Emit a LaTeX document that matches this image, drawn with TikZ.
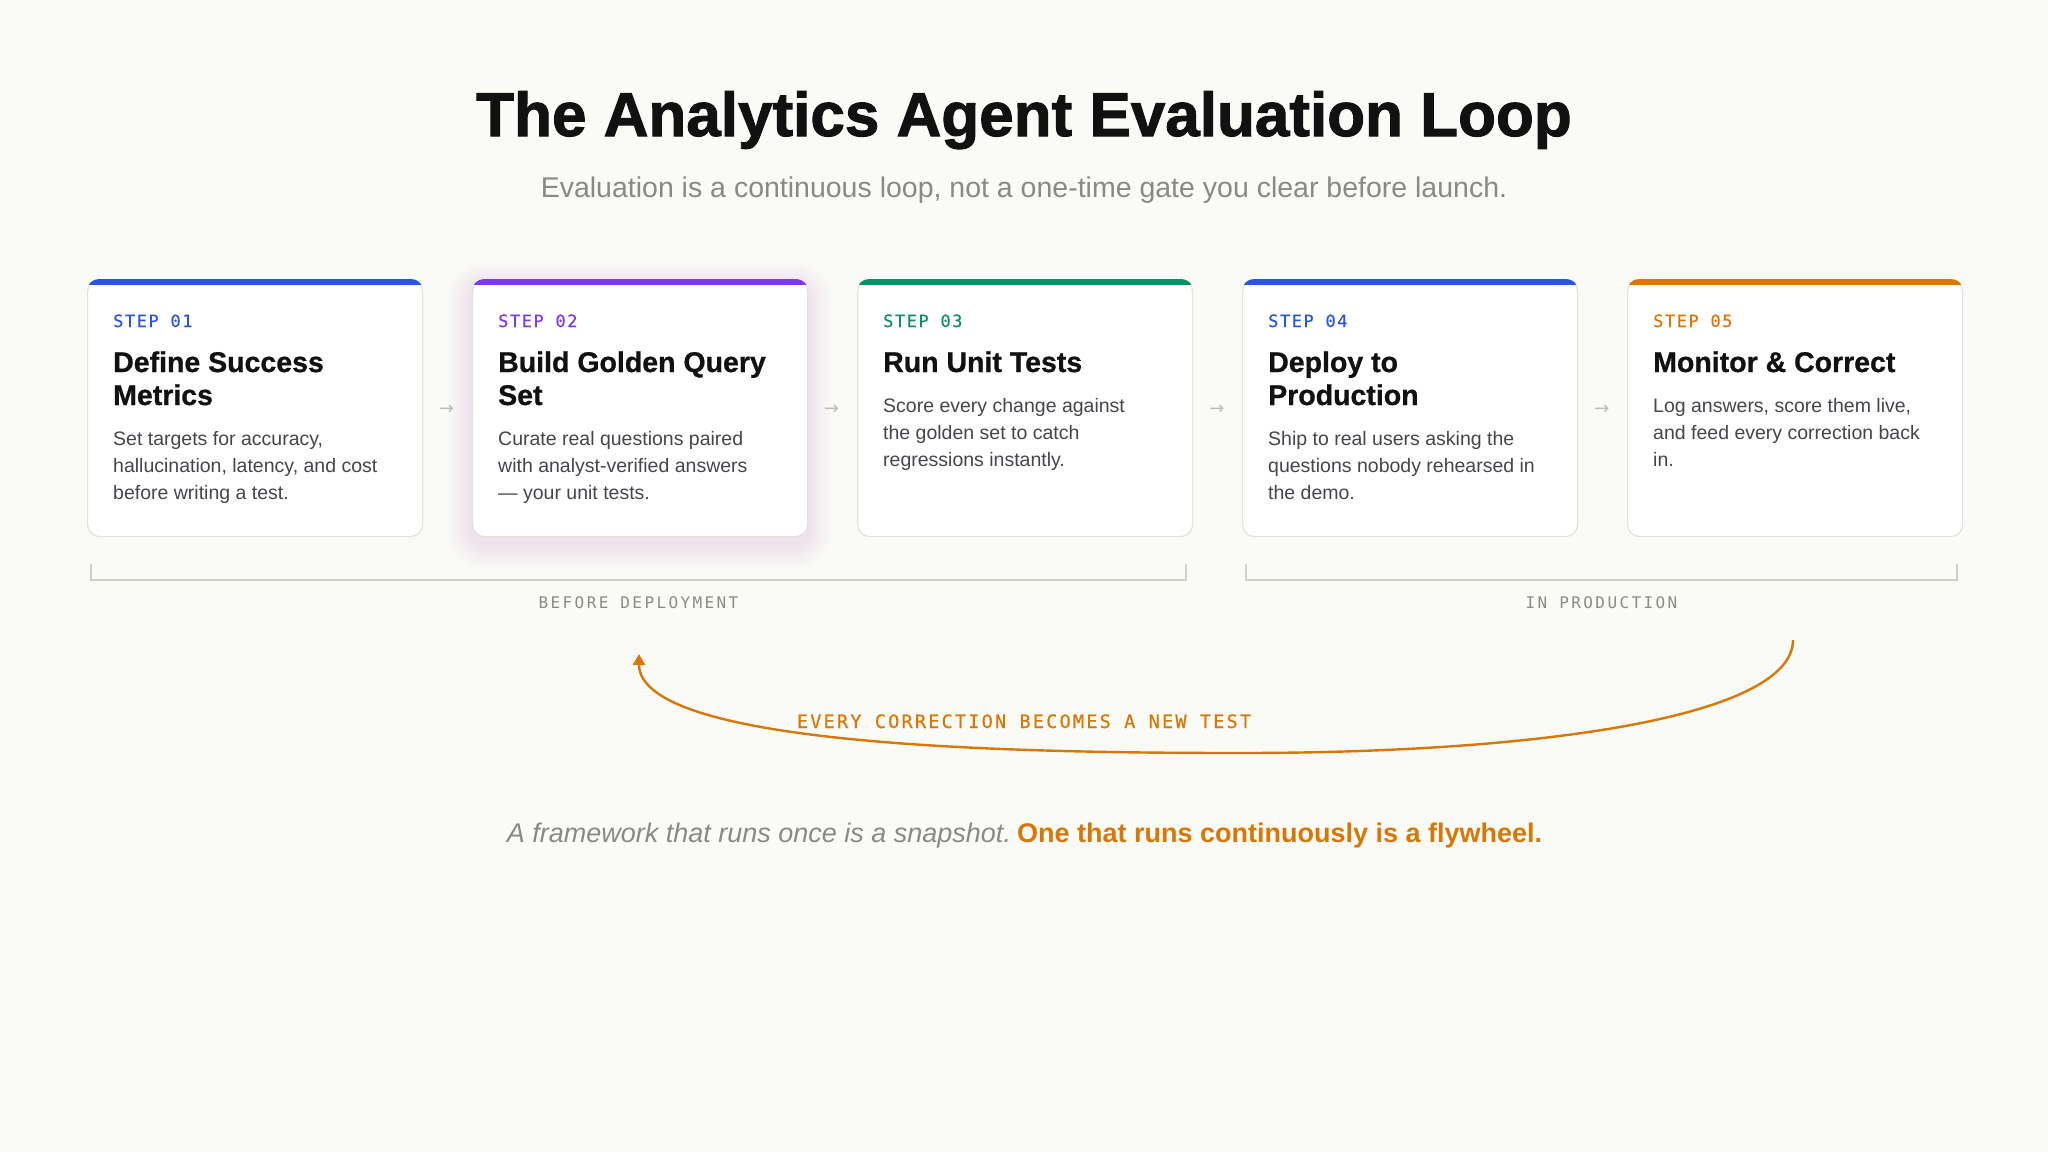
\documentclass[tikz,border=0pt]{standalone}
\usepackage{fontspec}
\setmainfont{Liberation Sans}
\newfontfamily\titlef[FakeBold=1.6]{Liberation Sans Bold}
\newfontfamily\ctitlef[FakeBold=0.8]{Liberation Sans Bold}
\newfontfamily\stepf[LetterSpace=9,FakeBold=0.5]{DejaVu Sans Mono}
\newfontfamily\labf[LetterSpace=15]{DejaVu Sans Mono}
\newfontfamily\loopf[LetterSpace=12,FakeBold=0.4]{DejaVu Sans Mono}
\newfontfamily\arrf{DejaVu Sans}
\usetikzlibrary{arrows.meta}
\definecolor{bgc}{HTML}{FAFAF7}
\definecolor{titlec}{HTML}{111111}
\definecolor{bodyc}{HTML}{45454B}
\definecolor{subc}{HTML}{8A8A85}
\definecolor{linec}{HTML}{D2D0C8}
\definecolor{labc}{HTML}{8C8C85}
\definecolor{borderc}{HTML}{E3E1DB}
\definecolor{bluec}{HTML}{2A55DD}
\definecolor{purplec}{HTML}{7C3AED}
\definecolor{greenc}{HTML}{0E8F62}
\definecolor{orangec}{HTML}{D97706}
\definecolor{arrc}{HTML}{BDBDB5}
\tikzset{
  cardnode/.style={draw=borderc, line width=1.2pt, fill=white, rounded corners=12pt,
    minimum width=335pt, minimum height=257pt, anchor=north west, inner sep=0pt},
  txt/.style={anchor=base west, inner sep=0pt},
  steplab/.style={txt, font=\stepf\fontsize{17}{20}\selectfont},
  cardtitle/.style={txt, font=\ctitlef\fontsize{28.5}{33}\selectfont, text=titlec},
  cardbody/.style={txt, font=\fontsize{19.5}{27}\selectfont, text=bodyc},
  gaparrow/.style={inner sep=0pt, font=\arrf\fontsize{18}{18}\selectfont, text=arrc},
  bracket/.style={draw=linec, line width=1.5pt},
  phaselab/.style={anchor=base, inner sep=0pt, font=\labf\fontsize{16}{18}\selectfont, text=labc},
  looparrow/.style={draw=orangec, line width=2.4pt, -{Triangle[length=11pt,width=12pt]}},
}
\newcommand\cardbar[2]{%
  \begin{scope}
    \clip[rounded corners=12pt] (#1.north west) rectangle (#1.south east);
    \fill[#2] (#1.north west) rectangle ([yshift=-6pt]#1.north east);
  \end{scope}}
\begin{document}
\begin{tikzpicture}[x=1pt,y=-1pt]
\useasboundingbox[fill=bgc] (0,0) rectangle (2048,1152);

% title
\node[anchor=base, inner sep=0pt, font=\titlef\fontsize{62}{70}\selectfont, text=titlec] (title) at (1024,136) {The Analytics Agent Evaluation Loop};
\node[anchor=base, inner sep=0pt, font=\fontsize{28.5}{32}\selectfont, text=subc] (subtitle) at (1024,197) {Evaluation is a continuous loop, not a one-time gate you clear before launch.};

% soft shadow of card 2
\foreach \s in {2,4,...,24}{
  \fill[purplec, opacity=0.006, rounded corners={12pt+\s pt}] (472-\s,279-\s+8) rectangle (807+\s,536+\s+8);
}

% cards
\node[cardnode] (c1) at (87,279) {};
\node[cardnode] (c2) at (472,279) {};
\node[cardnode] (c3) at (857,279) {};
\node[cardnode] (c4) at (1242,279) {};
\node[cardnode] (c5) at (1627,279) {};
\cardbar{c1}{bluec}
\cardbar{c2}{purplec}
\cardbar{c3}{greenc}
\cardbar{c4}{bluec}
\cardbar{c5}{orangec}

% card 1
\node[steplab, text=bluec] (s1) at (113,327) {STEP 01};
\node[cardtitle] (t1a) at (113,372) {Define Success};
\node[cardtitle] (t1b) at (113,405) {Metrics};
\node[cardbody] (b1a) at (113,445) {Set targets for accuracy,};
\node[cardbody] (b1b) at (113,472) {hallucination, latency, and cost};
\node[cardbody] (b1c) at (113,499) {before writing a test.};

% card 2
\node[steplab, text=purplec] (s2) at (498,327) {STEP 02};
\node[cardtitle] (t2a) at (498,372) {Build Golden Query};
\node[cardtitle] (t2b) at (498,405) {Set};
\node[cardbody] (b2a) at (498,445) {Curate real questions paired};
\node[cardbody] (b2b) at (498,472) {with analyst-verified answers};
\node[cardbody] (b2c) at (498,499) {— your unit tests.};

% card 3
\node[steplab, text=greenc] (s3) at (883,327) {STEP 03};
\node[cardtitle] (t3a) at (883,372) {Run Unit Tests};
\node[cardbody] (b3a) at (883,412) {Score every change against};
\node[cardbody] (b3b) at (883,439) {the golden set to catch};
\node[cardbody] (b3c) at (883,466) {regressions instantly.};

% card 4
\node[steplab, text=bluec] (s4) at (1268,327) {STEP 04};
\node[cardtitle] (t4a) at (1268,372) {Deploy to};
\node[cardtitle] (t4b) at (1268,405) {Production};
\node[cardbody] (b4a) at (1268,445) {Ship to real users asking the};
\node[cardbody] (b4b) at (1268,472) {questions nobody rehearsed in};
\node[cardbody] (b4c) at (1268,499) {the demo.};

% card 5
\node[steplab, text=orangec] (s5) at (1653,327) {STEP 05};
\node[cardtitle] (t5a) at (1653,372) {Monitor \& Correct};
\node[cardbody] (b5a) at (1653,412) {Log answers, score them live,};
\node[cardbody] (b5b) at (1653,439) {and feed every correction back};
\node[cardbody] (b5c) at (1653,466) {in.};

% small arrows between cards
\node[gaparrow] (g12) at (446.5,410) {→};
\node[gaparrow] (g23) at (831.5,410) {→};
\node[gaparrow] (g34) at (1217,410) {→};
\node[gaparrow] (g45) at (1602,410) {→};

% phase brackets
\draw[bracket] (91,564) -- (91,580) -- (1186,580) -- (1186,564);
\draw[bracket] (1246,564) -- (1246,580) -- (1957,580) -- (1957,564);
\node[phaselab] (p1) at (638.5,608) {BEFORE DEPLOYMENT};
\node[phaselab] (p2) at (1601.5,608) {IN PRODUCTION};

% feedback loop
\coordinate (loopstart) at (1793,640);
\coordinate (loopend) at (639,654);
\draw[looparrow] (loopstart) .. controls (1793,715) and (1550,753) .. (1240,753)
  .. controls (1000,753) and (639,745) .. (loopend);
\node[anchor=base, inner sep=0pt, font=\loopf\fontsize{18.5}{20}\selectfont, text=orangec] (looplab) at (1024,728) {EVERY CORRECTION BECOMES A NEW TEST};

% tagline
\node[anchor=base, inner sep=0pt, font=\fontsize{27}{30}\selectfont] (tagline) at (1024.5,842)
  {{\itshape\color{subc}A framework that runs once is a snapshot.}\hspace{6pt}{\bfseries\color{orangec}One that runs continuously is a flywheel.}};
\end{tikzpicture}
\end{document}
